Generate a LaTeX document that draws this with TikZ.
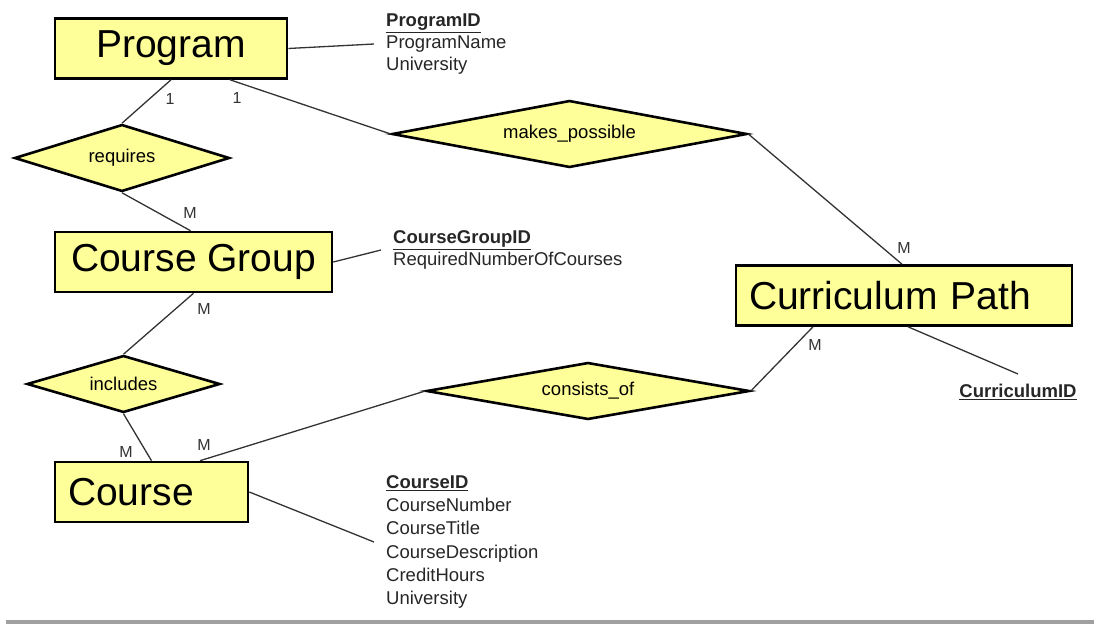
\documentclass[tikz,border=0pt]{standalone}
\usepackage{fontspec}
\setmainfont{Liberation Sans}
\usetikzlibrary{shapes.geometric}
\definecolor{amarilloER}{HTML}{FFFF99}
\definecolor{lineaER}{HTML}{333333}
\definecolor{barraGris}{HTML}{A0A0A0}
\newcommand{\claveER}[1]{\underline{\textbf{#1}}}

\begin{document}
\begin{tikzpicture}[x=1pt, y=-1pt,
        entity/.style={draw=black, line width=2.6pt, fill=amarilloER, minimum height=60pt,
            inner xsep=13pt, font=\fontsize{39}{44}\selectfont},
        rel/.style={diamond, draw=black, line width=2.6pt, fill=amarilloER, inner sep=0pt,
            font=\fontsize{18.5}{22}\selectfont},
        attr/.style={anchor=west, align=left, inner xsep=12pt, inner ysep=0pt, text=black!85,
            font=\fontsize{18.5}{22}\selectfont},
        card/.style={font=\fontsize{16}{18}\selectfont, text=black!80, inner sep=1pt},
        conn/.style={lineaER, line width=1.3pt}]
        \useasboundingbox (0,0) rectangle (1094,624);
        % entidades
        \node[entity, minimum width=232pt] (prog)   at (171,48.5)  {Program};
        \node[entity, minimum width=277pt] (cgroup) at (193.5,262) {Course Group};
        \node[entity, text width=167pt]    (course) at (151.5,492) {Course};
        \node[entity, text width=310pt]    (cpath)  at (904,295.5) {Curriculum Path};
        % relaciones
        \node[rel, shape aspect=3.2,  minimum width=215pt, minimum height=67pt] (req)    at (122,158)   {requires};
        \node[rel, shape aspect=3.4,  minimum width=193pt, minimum height=57pt] (incl)   at (123.5,384) {includes};
        \node[rel, shape aspect=5.3,  minimum width=355pt, minimum height=67pt] (mkposs) at (569.5,134) {makes\_possible};
        \node[rel, shape aspect=5.67, minimum width=323pt, minimum height=57pt] (consof) at (588,391)   {consists\_of};
        % atributos
        \node[attr] (progAttr) at (374,44) {\claveER{ProgramID}\\ProgramName\\University};
        \node[attr] (cgAttr)   at (381,250)  {\claveER{CourseGroupID}\\RequiredNumberOfCourses};
        \node[attr, font=\fontsize{18.5}{23.2}\selectfont] (courseAttr) at (374,542)
            {\claveER{CourseID}\\CourseNumber\\CourseTitle\\CourseDescription\\CreditHours\\University};
        \node[attr, anchor=center, inner ysep=10pt] (cpAttr) at (1018,392) {\claveER{CurriculumID}};
        % conectores
        \draw[conn] (prog.south) -- (req.north);
        \draw[conn] ([xshift=59pt]prog.south) -- (mkposs.west);
        \draw[conn] (req.south) -- ([xshift=-3pt]cgroup.north);
        \draw[conn] (cgroup.south) -- (incl.north);
        \draw[conn] (incl.south) -- (course.north);
        \draw[conn] ([xshift=48.5pt]course.north) -- (consof.west);
        \draw[conn] (consof.east) -- ([xshift=-91pt]cpath.south);
        \draw[conn] (mkposs.east) -- ([xshift=-2pt]cpath.north);
        \draw[conn] (prog.east) -- (progAttr.west);
        \draw[conn] (cgroup.east) -- (cgAttr.west);
        \draw[conn] (course.east) -- (courseAttr.west);
        \draw[conn] ([xshift=4pt]cpath.south) -- (cpAttr.north);
        % cardinalidades
        \node[card] (c1) at (170,99)  {1};
        \node[card] (c2) at (237,98)  {1};
        \node[card] (m1) at (190,213) {M};
        \node[card] (m2) at (204,309) {M};
        \node[card] (m3) at (126,452) {M};
        \node[card] (m4) at (204,445) {M};
        \node[card] (m5) at (904,248) {M};
        \node[card] (m6) at (815,345) {M};
        \fill[barraGris] (6,620) rectangle (1094,624);
    \end{tikzpicture}
\end{document}
